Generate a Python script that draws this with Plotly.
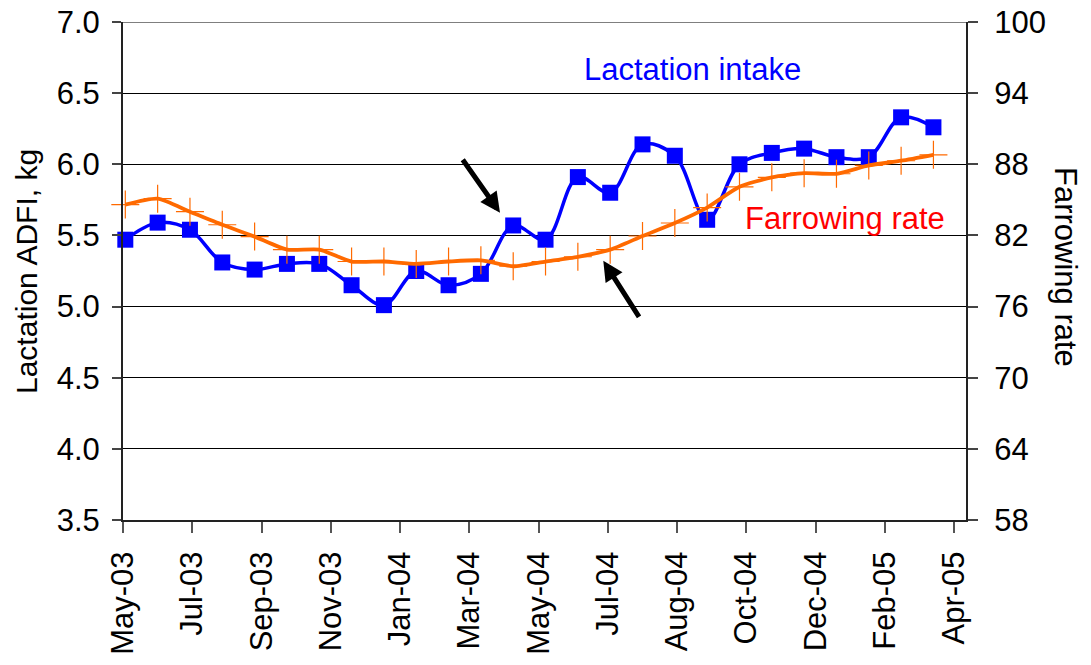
import plotly.graph_objects as go

# ---- data ----
dates = ["2003-05-10", "2003-06-07", "2003-07-05", "2003-08-02", "2003-08-30", "2003-09-27",
         "2003-10-25", "2003-11-22", "2003-12-20", "2004-01-17", "2004-02-14", "2004-03-13",
         "2004-04-10", "2004-05-08", "2004-06-05", "2004-07-03", "2004-07-31", "2004-08-28",
         "2004-09-25", "2004-10-23", "2004-11-20", "2004-12-18", "2005-01-15", "2005-02-12",
         "2005-03-12", "2005-04-09"]
lactation_adfi = [5.47, 5.59, 5.54, 5.31, 5.26, 5.30, 5.30, 5.15, 5.01, 5.25, 5.15, 5.23, 5.57,
                  5.47, 5.91, 5.80, 6.14, 6.06, 5.61, 6.00, 6.08, 6.11, 6.05, 6.05, 6.33, 6.26]
farrowing_rate = [84.6, 85.1, 84.0, 82.9, 81.9, 80.8, 80.8, 79.8, 79.8, 79.6, 79.8, 79.9, 79.4,
                  79.8, 80.2, 80.8, 81.95, 83.05, 84.35, 86.1, 86.9, 87.25, 87.2, 87.9, 88.3, 88.8]
tick_dates = ["2003-05-08", "2003-07-07", "2003-09-05", "2003-11-04", "2004-01-03", "2004-03-03",
              "2004-05-02", "2004-07-01", "2004-08-30", "2004-10-29", "2004-12-28", "2005-02-26",
              "2005-04-27"]
tick_labels = ["May-03", "Jul-03", "Sep-03", "Nov-03", "Jan-04", "Mar-04", "May-04", "Jul-04",
               "Aug-04", "Oct-04", "Dec-04", "Feb-05", "Apr-05"]
left_ticks = [3.5, 4.0, 4.5, 5.0, 5.5, 6.0, 6.5, 7.0]
right_ticks = [58, 64, 70, 76, 82, 88, 94, 100]

FONT = "Arial, Liberation Sans, sans-serif"
BLUE = "#0000FF"
ORANGE = "#FF6A00"

fig = go.Figure()
fig.add_trace(go.Scatter(
    x=dates, y=lactation_adfi, mode="lines+markers", name="Lactation intake",
    line=dict(color=BLUE, width=3.5, shape="spline", smoothing=1.0),
    marker=dict(symbol="square", size=16, color=BLUE),
    yaxis="y", cliponaxis=False))
fig.add_trace(go.Scatter(
    x=dates, y=farrowing_rate, mode="lines+markers", name="Farrowing rate",
    line=dict(color=ORANGE, width=3.8, shape="spline", smoothing=0.6),
    marker=dict(symbol="cross-thin", size=20, color=ORANGE, line=dict(color=ORANGE, width=1.2)),
    yaxis="y2", cliponaxis=False))

fig.update_layout(
    width=1091, height=665,
    margin=dict(l=123, r=125, t=22, b=145, pad=0, autoexpand=False),
    paper_bgcolor="white", plot_bgcolor="white",
    showlegend=False,
    font=dict(family=FONT, size=31, color="black"),
    xaxis=dict(
        type="date", range=["2003-05-08", "2005-05-07 05:00"], automargin=False,
        tickmode="array", tickvals=tick_dates, ticktext=tick_labels, tickangle=-90,
        ticks="outside", ticklen=11, tickwidth=1.5, tickcolor="#555",
        showline=True, linecolor="#222", linewidth=2, showgrid=False, zeroline=False,
        tickfont=dict(family=FONT, size=31), ticklabelstandoff=6,
        ticklabeloverflow="allow"),
    yaxis=dict(
        range=[3.5, 7.0], tickmode="array", tickvals=left_ticks, automargin=False,
        ticktext=[f"{v:.1f}" for v in left_ticks],
        ticks="outside", ticklen=9, tickwidth=1.5, tickcolor="#444",
        showline=True, linecolor="#222", linewidth=2,
        showgrid=True, gridcolor="black", gridwidth=1, zeroline=False,
        tickfont=dict(family=FONT, size=31), ticklabelstandoff=6,
        ticklabeloverflow="allow"),
    yaxis2=dict(
        range=[58, 100], tickmode="array", tickvals=right_ticks, automargin=False,
        overlaying="y", side="right", anchor="x",
        ticks="outside", ticklen=10, tickwidth=1.5, tickcolor="#444",
        showline=True, linecolor="#222", linewidth=2,
        showgrid=False, zeroline=False,
        tickfont=dict(family=FONT, size=31), ticklabelstandoff=10,
        ticklabeloverflow="allow"),
)

# top gridline (plotly omits the grid line at the range edge)
fig.add_shape(type="line", xref="paper", yref="y", x0=0, x1=1, y0=left_ticks[-1], y1=left_ticks[-1],
              line=dict(color="black", width=1), layer="below")

PW, PH = 843, 498  # plot area size in px (for placing paper-relative annotations)
X0, Y1 = 123, 520  # plot area left / bottom in page pixels

def px(xs, ys):
    return (xs - X0) / PW, (Y1 - ys) / PH

# axis titles
x, y = px(26, 272)
fig.add_annotation(text="Lactation ADFI, kg", xref="paper", yref="paper", x=x, y=y,
                   textangle=-90, showarrow=False,
                   font=dict(family=FONT, size=30, color="black"), xanchor="center", yanchor="middle")
x, y = px(1066, 267)
fig.add_annotation(text="Farrowing rate", xref="paper", yref="paper", x=x, y=y,
                   textangle=90, showarrow=False,
                   font=dict(family=FONT, size=31, color="black"), xanchor="center", yanchor="middle")

# series labels
x, y = px(692, 70)
fig.add_annotation(text="Lactation intake", xref="paper", yref="paper", x=x, y=y, showarrow=False,
                   font=dict(family=FONT, size=31, color=BLUE), xanchor="center", yanchor="middle")
x, y = px(845, 218)
fig.add_annotation(text="Farrowing rate", xref="paper", yref="paper", x=x, y=y, showarrow=False,
                   font=dict(family=FONT, size=31, color="#FF0000"), xanchor="center", yanchor="middle")

# arrows
x, y = px(500, 212.7)
fig.add_annotation(text="", xref="paper", yref="paper", x=x, y=y, ax=-38.3, ay=-54.4,
                   showarrow=True, arrowhead=2, arrowsize=0.8, arrowwidth=5, arrowcolor="black",
                   standoff=0, startstandoff=0)
x, y = px(603.3, 260.7)
fig.add_annotation(text="", xref="paper", yref="paper", x=x, y=y, ax=36.7, ay=57.6,
                   showarrow=True, arrowhead=2, arrowsize=0.8, arrowwidth=5, arrowcolor="black",
                   standoff=0, startstandoff=0)

fig.write_html("out.html", config={"displayModeBar": False},
               post_script="document.body.style.margin='0';")
